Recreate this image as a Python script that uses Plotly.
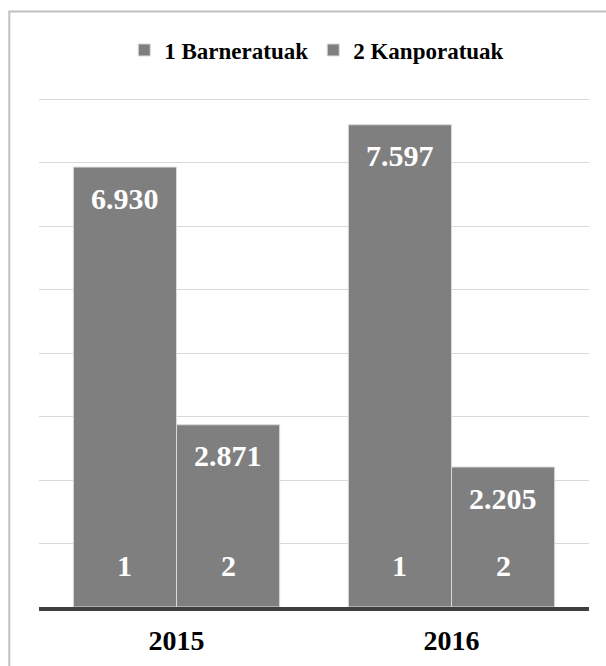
import plotly.graph_objects as go

# ---- data ----
years = ["2015", "2016"]
series_names = ["1 Barneratuak", "2 Kanporatuak"]
series_short = ["1", "2"]
barneratuak = [6930, 7597]
kanporatuak = [2871, 2205]
y_ticks = [0, 1000, 2000, 3000, 4000, 5000, 6000, 7000, 8000]

series_values = [barneratuak, kanporatuak]

FONT = "Times New Roman, Liberation Serif, DejaVu Serif, serif"
BAR_COLOR = "#7f7f7f"
BARGAP = 0.25

fig = go.Figure()
for name, vals in zip(series_names, series_values):
    fig.add_trace(go.Bar(
        x=years, y=vals, name="<b>" + name + "</b>",
        marker=dict(color=BAR_COLOR, line=dict(color="#d9d9d9", width=1)),
        hoverinfo="skip",
    ))

def fmt(v):
    return f"{v:,}".replace(",", ".")

n_series = len(series_values)
bar_w = (1 - BARGAP) / n_series
annotations = []
for s, vals in enumerate(series_values):
    off = -(1 - BARGAP) / 2 + bar_w * (s + 0.5)
    for i, v in enumerate(vals):
        annotations.append(dict(
            x=i + off, y=v, xref="x", yref="y", text="<b>" + fmt(v) + "</b>",
            showarrow=False, yshift=-31, yanchor="middle",
            font=dict(family=FONT, size=30, color="white")))
        annotations.append(dict(
            x=i + off, y=0, xref="x", yref="y", text="<b>" + series_short[s] + "</b>",
            showarrow=False, yshift=42, yanchor="middle",
            font=dict(family=FONT, size=30, color="white")))

fig.update_layout(
    width=606, height=666,
    margin=dict(l=39, r=17, t=96, b=59, autoexpand=False),
    paper_bgcolor="white", plot_bgcolor="white",
    font=dict(family=FONT),
    barmode="group", bargap=BARGAP, bargroupgap=0,
    showlegend=True,
    legend=dict(orientation="h", x=0.505, xanchor="center", y=1.09, yanchor="middle",
                font=dict(family=FONT, size=23, color="black"),
                itemclick=False, itemdoubleclick=False),
    xaxis=dict(showline=True, linecolor="#404040", linewidth=4, automargin=False,
               ticks="", showgrid=False, ticklabelstandoff=5,
               tickvals=years, ticktext=["<b>" + y + "</b>" for y in years],
               tickfont=dict(family=FONT, size=28, color="black")),
    yaxis=dict(range=[0, 8050], tickvals=y_ticks, showticklabels=False, automargin=False,
               showgrid=True, gridcolor="#d9d9d9", gridwidth=1, zeroline=False),
    annotations=annotations,
    shapes=[dict(type="rect", xref="paper", yref="paper",
                 x0=-0.054, x1=1.2, y0=-0.3, y1=1.1655,
                 line=dict(color="#c0c0c0", width=2), layer="below")],
)

fig.write_html("out.html")
